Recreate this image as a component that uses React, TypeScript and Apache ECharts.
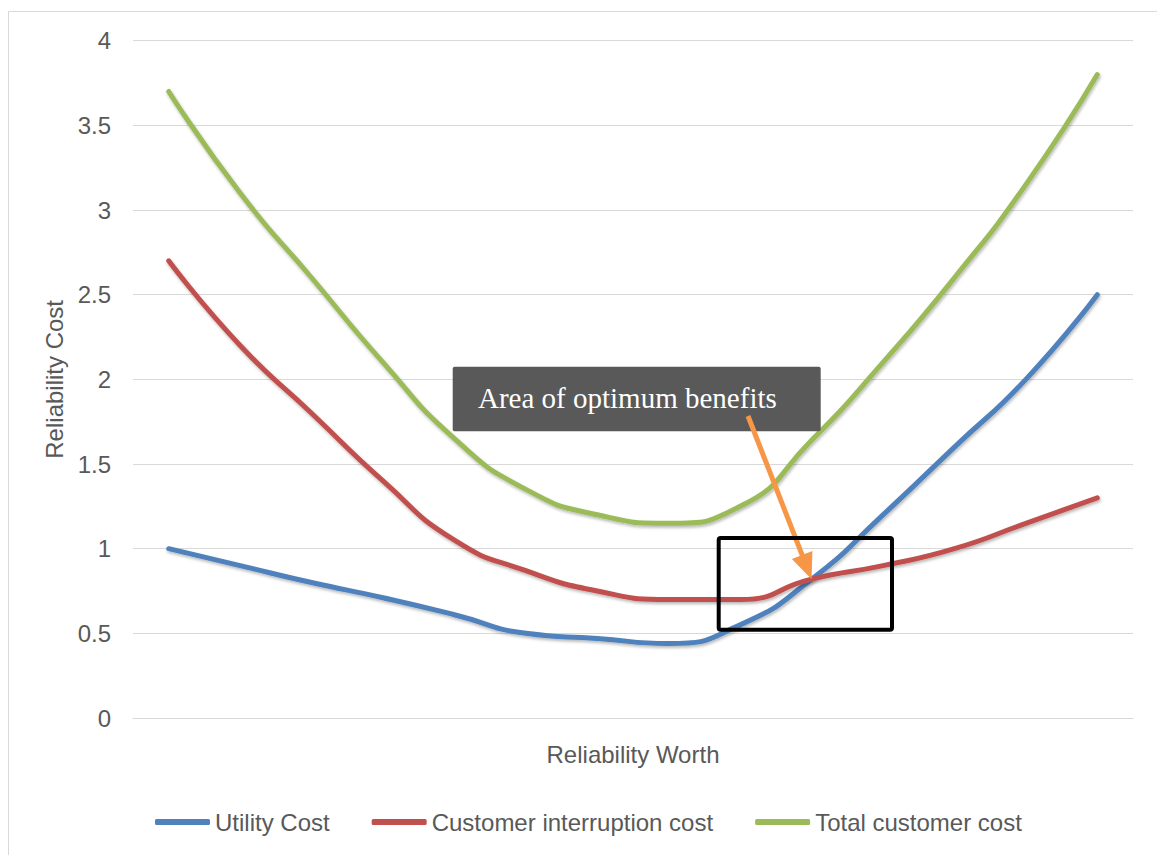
import { useEffect, useRef } from "react";
import * as echarts from "echarts";

// Points along the reliability-worth axis (labels are not shown)
const categories = ["1", "2", "3", "4", "5", "6", "7", "8", "9", "10", "11", "12", "13", "14"];

const utilityCost = [1.0, 0.9, 0.8, 0.71, 0.61, 0.5, 0.47, 0.44, 0.55, 0.82, 1.2, 1.6, 2.0, 2.5];
const interruptionCost = [2.7, 2.2, 1.8, 1.4, 1.05, 0.87, 0.75, 0.7, 0.7, 0.82, 0.9, 1.0, 1.15, 1.3];
const totalCost = [3.7, 3.1, 2.6, 2.1, 1.65, 1.35, 1.2, 1.15, 1.25, 1.64, 2.1, 2.6, 3.15, 3.8];

const seriesNames = ["Utility Cost", "Customer interruption cost", "Total customer cost"];
const seriesColors = ["#4F81BD", "#C0504D", "#9BBB59"];

const yMin = 0;
const yMax = 4;
const yInterval = 0.5;

// Where the utility and interruption curves meet
const crossIndex = 9;
const crossValue = interruptionCost[crossIndex];

const SANS = '"Liberation Sans", Arial, Helvetica, sans-serif';
const SERIF = '"Liberation Serif", "Times New Roman", serif';
const TEXT_GRAY = "#595959";
const GRID_GRAY = "#d9d9d9";

export default function App() {
  const ref = useRef<HTMLDivElement>(null);

  useEffect(() => {
    const el = ref.current;
    if (!el) return;
    const chart = echarts.init(el, null, { renderer: "svg" });

    const lineSeries = [utilityCost, interruptionCost, totalCost].map((data, i) => ({
      name: seriesNames[i],
      type: "line",
      data,
      smooth: 0.55,
      symbol: "none",
      lineStyle: {
        color: seriesColors[i],
        width: 5,
        cap: "round",
        join: "round",
        shadowColor: "rgba(0,0,0,0.28)",
        shadowBlur: 3,
        shadowOffsetX: 1,
        shadowOffsetY: 2,
      },
      itemStyle: { color: seriesColors[i] },
      emphasis: { disabled: true },
    }));

    chart.setOption({
      animation: false,
      backgroundColor: "#ffffff",
      textStyle: { fontFamily: SANS },
      grid: { left: 133, right: 24, top: 40.7, bottom: 137, containLabel: false },
      legend: {
        data: seriesNames,
        left: 150,
        top: 805,
        icon: "roundRect",
        itemWidth: 55,
        itemHeight: 6,
        itemGap: 42,
        textStyle: { fontSize: 24, color: TEXT_GRAY, fontFamily: SANS },
        selectedMode: false,
      },
      xAxis: {
        type: "category",
        data: categories,
        boundaryGap: true,
        name: "Reliability Worth",
        nameLocation: "middle",
        nameGap: 24,
        nameTextStyle: { fontSize: 24, color: TEXT_GRAY, fontFamily: SANS, verticalAlign: "top" },
        axisLine: { show: true, lineStyle: { color: GRID_GRAY, width: 1 } },
        axisTick: { show: false },
        axisLabel: { show: false },
        splitLine: { show: false },
      },
      yAxis: {
        type: "value",
        min: yMin,
        max: yMax,
        interval: yInterval,
        name: "Reliability Cost",
        nameLocation: "middle",
        nameGap: 63,
        nameTextStyle: { fontSize: 24, color: TEXT_GRAY, fontFamily: SANS },
        axisLine: { show: false },
        axisTick: { show: false },
        axisLabel: { fontSize: 24, color: TEXT_GRAY, fontFamily: SANS, margin: 22 },
        splitLine: { lineStyle: { color: GRID_GRAY, width: 1 } },
      },
      series: lineSeries,
    });

    // Arrow from the callout down to the crossing of the two cost curves
    const tip = chart.convertToPixel({ gridIndex: 0 }, [crossIndex, crossValue]) as number[];
    const start = [748, 416];
    const dx = tip[0] - start[0];
    const dy = tip[1] - start[1];
    const len = Math.sqrt(dx * dx + dy * dy);
    const ux = dx / len;
    const uy = dy / len;
    const headLen = 26;
    const headHalf = 11;
    const baseX = tip[0] - ux * headLen;
    const baseY = tip[1] - uy * headLen;
    const px = -uy * headHalf;
    const py = ux * headHalf;

    chart.setOption({
      graphic: [
        {
          type: "rect",
          silent: true,
          z: 0,
          shape: { x: 8.5, y: 11.5, width: 1300, height: 1000 },
          style: { fill: "none", stroke: GRID_GRAY, lineWidth: 1 },
        },
        {
          type: "rect",
          silent: true,
          z: 20,
          shape: { x: 452.7, y: 366.7, width: 368, height: 64.5, r: 2 },
          style: { fill: "#595959" },
        },
        {
          type: "text",
          silent: true,
          z: 21,
          style: {
            text: "Area of optimum benefits",
            x: 478,
            y: 398,
            fill: "#ffffff",
            fontSize: 29,
            fontFamily: SERIF,
            verticalAlign: "middle",
            align: "left",
          },
        },
        {
          type: "line",
          silent: true,
          z: 22,
          shape: { x1: start[0], y1: start[1], x2: baseX + ux * 2, y2: baseY + uy * 2 },
          style: { stroke: "#F79646", lineWidth: 5 },
        },
        {
          type: "polygon",
          silent: true,
          z: 22,
          shape: {
            points: [
              [tip[0], tip[1]],
              [baseX + px, baseY + py],
              [baseX - px, baseY - py],
            ],
          },
          style: { fill: "#F79646" },
        },
        {
          type: "rect",
          silent: true,
          z: 22,
          shape: { x: 718.7, y: 538, width: 173.3, height: 91.7, r: 2 },
          style: { fill: "none", stroke: "#000000", lineWidth: 4 },
        },
      ],
    });

    return () => chart.dispose();
  }, []);

  return (
    <div
      ref={ref}
      style={{ position: "absolute", left: 0, top: 0, width: 1157, height: 855, background: "#ffffff" }}
    />
  );
}
